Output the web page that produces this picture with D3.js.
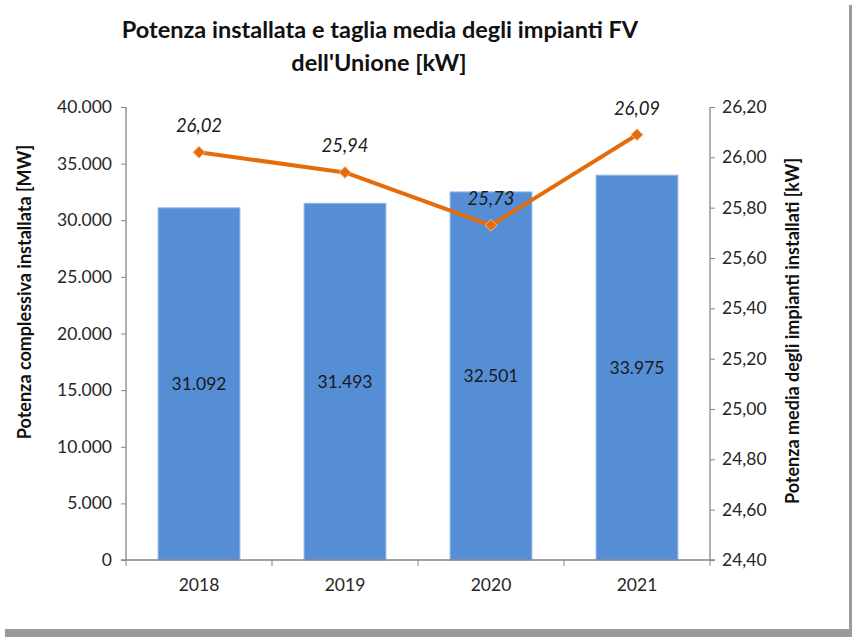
<!DOCTYPE html>
<html>
<head>
<meta charset="utf-8">
<script src="https://cdn.jsdelivr.net/npm/d3@7"></script>
<style>
  body { margin: 0; background: #fff; }
  svg { display: block; }
</style>
</head>
<body>
<script>
const years = ["2018", "2019", "2020", "2021"];
const potenza = [31092, 31493, 32501, 33975];   // MW
const tagliaMedia = [26.02, 25.94, 25.73, 26.09]; // kW
const leftTicks = [0, 5000, 10000, 15000, 20000, 25000, 30000, 35000, 40000];
const rightTicks = [24.4, 24.6, 24.8, 25.0, 25.2, 25.4, 25.6, 25.8, 26.0, 26.2];

const W = 852, H = 637;
const m = {left: 126, right: 142, top: 107, bottom: 77};
const font = "Lato, 'Open Sans', sans-serif";

const svg = d3.select("body").append("svg").attr("width", W).attr("height", H);

// frame + shadow
svg.append("rect").attr("x", 5).attr("y", 5).attr("width", W - 5).attr("height", H - 5).attr("fill", "#9a9a9a");
svg.append("rect").attr("x", 0).attr("y", 0).attr("width", 849).attr("height", 629).attr("fill", "#fff");

const x = d3.scaleBand().domain(years).range([m.left, W - m.right]).paddingInner(0.44).paddingOuter(0.22);
const y = d3.scaleLinear().domain([0, 40000]).range([H - m.bottom, m.top]);
const y2 = d3.scaleLinear().domain([24.4, 26.2]).range([H - m.bottom, m.top]);

const fmtIt = d3.formatLocale({decimal: ",", thousands: ".", grouping: [3], currency: ["", "€"]});
const fmtInt = fmtIt.format(",.0f");
const fmtDec = fmtIt.format(",.2f");

// bars
svg.append("g").selectAll("rect").data(years).join("rect")
  .attr("x", d => x(d)).attr("width", x.bandwidth())
  .attr("y", (d, i) => y(potenza[i])).attr("height", (d, i) => y(0) - y(potenza[i]))
  .attr("fill", "#558ed5").attr("stroke", "#8db3e2").attr("stroke-width", 1);

svg.append("g").selectAll("text").data(years).join("text")
  .attr("x", d => x(d) + x.bandwidth() / 2)
  .attr("y", (d, i) => (y(potenza[i]) + y(0)) / 2 + 6)
  .attr("text-anchor", "middle").attr("font-family", font).attr("font-size", 17.5).attr("fill", "#1a1a1a")
  .text((d, i) => fmtInt(potenza[i]));

// axes
const axisColor = "#868686";
const gL = svg.append("g").attr("transform", `translate(${m.left},0)`)
  .call(d3.axisLeft(y).tickValues(leftTicks).tickSize(5).tickPadding(9).tickFormat(fmtInt));
const gR = svg.append("g").attr("transform", `translate(${W - m.right},0)`)
  .call(d3.axisRight(y2).tickValues(rightTicks).tickSize(5).tickPadding(7).tickFormat(fmtDec));
const gB = svg.append("g").attr("transform", `translate(0,${H - m.bottom})`)
  .call(d3.axisBottom(x).tickSize(0).tickPadding(19));
// category separator ticks
const edges = years.map(d => x(d) - x.step() * x.paddingInner() / 2).concat([W - m.right]);
edges[0] = m.left;
gB.selectAll("line.sep").data(edges).join("line").attr("class", "sep")
  .attr("x1", d => d).attr("x2", d => d).attr("y1", 0).attr("y2", 6).attr("stroke", axisColor);

[gL, gR, gB].forEach(g => {
  g.select(".domain").attr("stroke", axisColor).attr("stroke-width", 1.3);
  g.selectAll(".tick line").attr("stroke", axisColor);
  g.selectAll("text").attr("font-family", font).attr("font-size", 17.5).attr("fill", "#262626");
});
gL.select(".domain").attr("d", `M0,${m.top}V${H - m.bottom}`);
gR.select(".domain").attr("d", `M0,${m.top}V${H - m.bottom}`);
gB.select(".domain").attr("d", `M${m.left - 5},0H${W - m.right + 5}`);

// line
const pts = years.map((d, i) => [x(d) + x.bandwidth() / 2, y2(tagliaMedia[i])]);
svg.append("path").attr("d", d3.line()(pts)).attr("fill", "none")
  .attr("stroke", "#e46c0a").attr("stroke-width", 4).attr("stroke-linejoin", "round");
svg.append("g").selectAll("path").data(pts).join("path")
  .attr("transform", d => `translate(${d[0]},${d[1]})`)
  .attr("d", d3.symbol(d3.symbolDiamond2, 90))
  .attr("fill", "#e46c0a").attr("stroke", "#f6b98a").attr("stroke-width", 1);
svg.append("g").selectAll("text").data(pts).join("text")
  .attr("x", d => d[0]).attr("y", d => d[1] - 20)
  .attr("text-anchor", "middle").attr("font-family", font).attr("font-style", "italic")
  .attr("font-size", 18.5).attr("fill", "#1a1a1a")
  .text((d, i) => fmtDec(tagliaMedia[i]));

// title
const title = svg.append("text").attr("text-anchor", "middle").attr("font-family", font)
  .attr("font-weight", "bold").attr("font-size", 23.5).attr("fill", "#111");
title.append("tspan").attr("x", 380).attr("y", 38).text("Potenza installata e taglia media degli impianti FV");
title.append("tspan").attr("x", 379).attr("y", 71).text("dell'Unione [kW]");

// axis titles
svg.append("text").attr("transform", `translate(31,292) rotate(-90)`)
  .attr("text-anchor", "middle").attr("font-family", font).attr("font-weight", "bold")
  .attr("font-size", 18).attr("fill", "#111").text("Potenza complessiva installata [MW]");
svg.append("text").attr("transform", `translate(799,331) rotate(-90)`)
  .attr("text-anchor", "middle").attr("font-family", font).attr("font-weight", "bold")
  .attr("font-size", 18).attr("fill", "#111").text("Potenza media degli impianti installati [kW]");
</script>
</body>
</html>
